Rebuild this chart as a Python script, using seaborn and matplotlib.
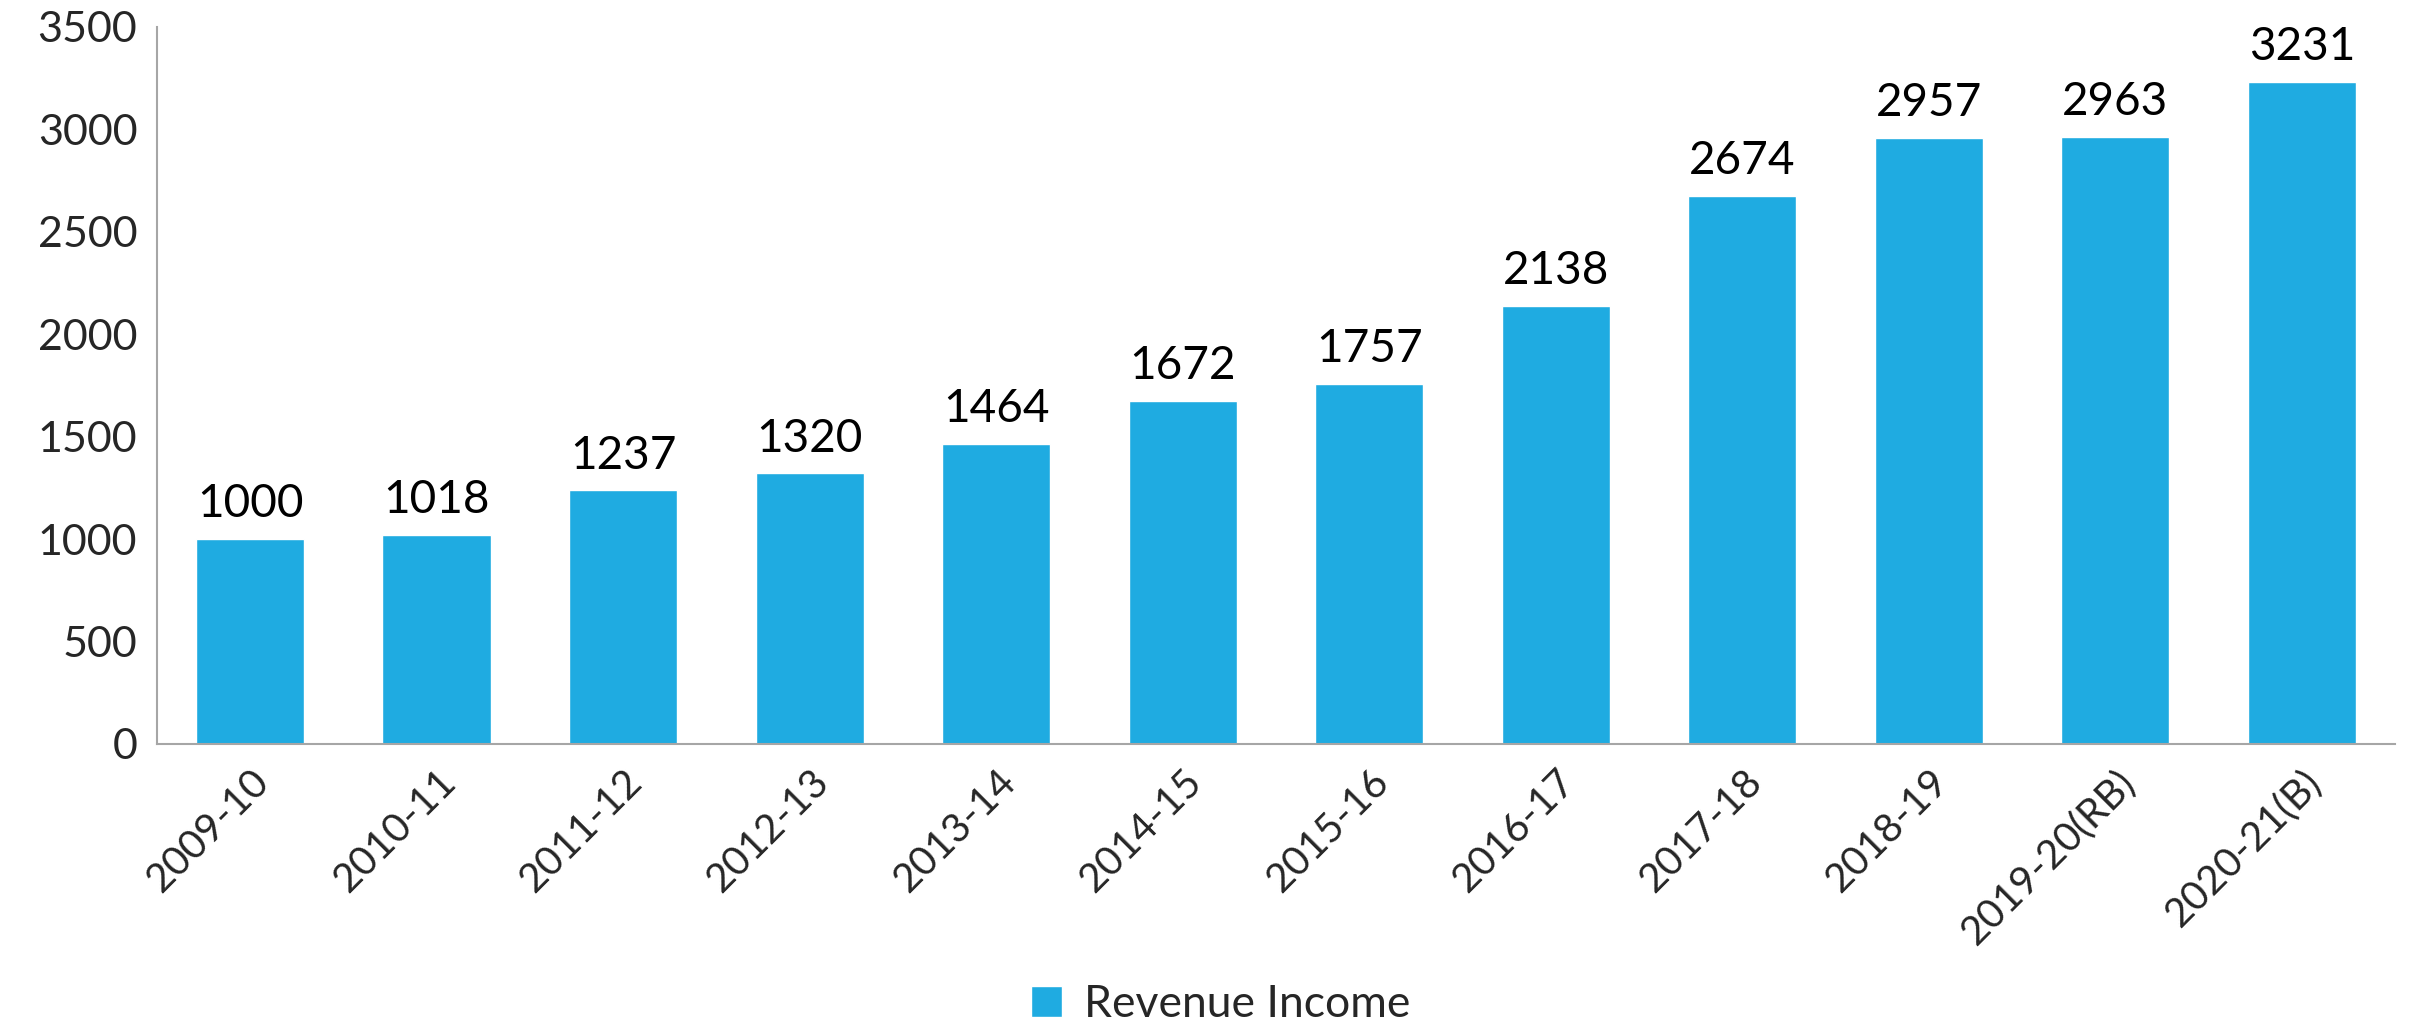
import numpy as np
import pandas as pd
import seaborn as sns
import matplotlib.pyplot as plt

# data
years = ['2009-10', '2010-11', '2011-12', '2012-13', '2013-14', '2014-15',
         '2015-16', '2016-17', '2017-18', '2018-19', '2019-20(RB)', '2020-21(B)']
revenue = [1000, 1018, 1237, 1320, 1464, 1672, 1757, 2138, 2674, 2957, 2963, 3231]
yticks = [0, 500, 1000, 1500, 2000, 2500, 3000, 3500]

BAR_COLOR = '#1FABE1'

sns.set_style('white')
plt.rcParams['font.family'] = ['Lato', 'DejaVu Sans']

df = pd.DataFrame({'year': years, 'value': revenue})

fig = plt.figure(figsize=(24.12, 10.29), dpi=100)
ax = fig.add_axes([0.065, 0.277, 0.928, 0.697])

sns.barplot(data=df, x='year', y='value', color=BAR_COLOR, width=0.58,
            saturation=1, ax=ax, label='Revenue Income')

# value labels above bars
for i, v in enumerate(revenue):
    ax.annotate(f'{v}', (i, v), xytext=(0, 10), textcoords='offset points',
                ha='center', va='bottom', fontsize=33, color='black')

ax.set_ylim(0, 3500)
ax.set_xlim(-0.5, len(years) - 0.5)
ax.set_yticks(yticks)
ax.set_yticklabels([str(t) for t in yticks], fontsize=31)
ax.set_xticks(range(len(years)))
ax.set_xticklabels(years, rotation=45, ha='right', rotation_mode='anchor', fontsize=29)
ax.tick_params(axis='both', length=0, pad=14)
ax.set_xlabel('')
ax.set_ylabel('')

for s in ['top', 'right']:
    ax.spines[s].set_visible(False)
for s in ['left', 'bottom']:
    ax.spines[s].set_color('#A6A6A6')
    ax.spines[s].set_linewidth(1.5)

if ax.legend_:
    ax.legend_.remove()
handles, labels = ax.get_legend_handles_labels()
fig.legend(handles, labels, loc='lower center', bbox_to_anchor=(0.506, -0.035),
           frameon=False, fontsize=32, handlelength=0.7, handleheight=0.7,
           handletextpad=0.5)

fig.savefig('out.png', dpi=100)
